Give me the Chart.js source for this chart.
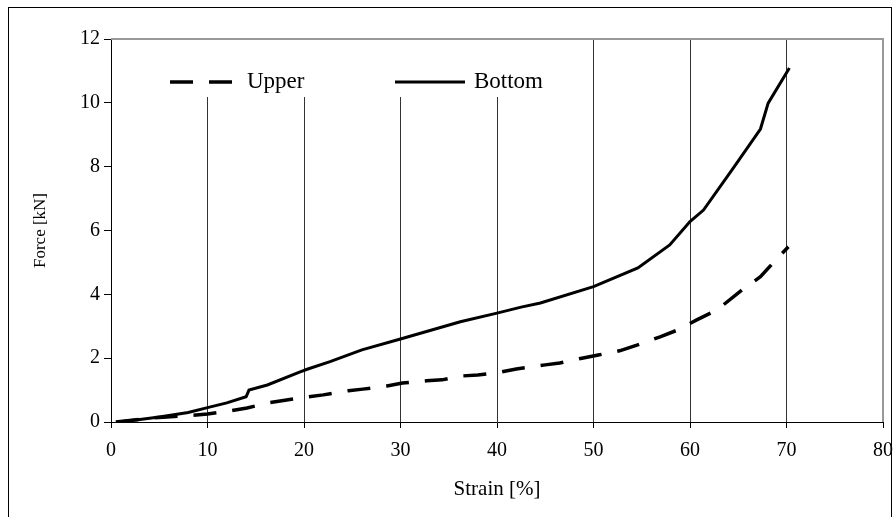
<!DOCTYPE html>
<html>
<head>
<meta charset="utf-8">
<script src="https://cdn.jsdelivr.net/npm/chart.js@4/dist/chart.umd.min.js"></script>
<style>
  html, body { margin: 0; padding: 0; background: #fff; }
  canvas { display: block; }
</style>
</head>
<body>
<canvas id="chart" width="896" height="517"></canvas>
<script>
// Strain [%] vs Force [kN]
const upperStrain = [0.5, 4, 5.8, 8, 10, 12, 14.1, 16.3, 18.2, 20.4, 22, 24.6, 26.1, 28.6, 30.2, 32.7, 34.3, 36.2, 38, 40, 42, 45, 46.5, 48.8, 50.5, 52.7, 54.5, 56.9, 58.7, 60.7, 62.8, 65.4, 67.3, 68.6, 70.2];
const upperForce = [0, 0.12, 0.16, 0.2, 0.25, 0.33, 0.44, 0.6, 0.69, 0.79, 0.85, 0.98, 1.03, 1.13, 1.22, 1.29, 1.32, 1.44, 1.47, 1.54, 1.66, 1.79, 1.85, 2.0, 2.1, 2.23, 2.41, 2.67, 2.88, 3.2, 3.51, 4.14, 4.55, 4.98, 5.49];

const bottomStrain = [0.7, 3, 5, 8, 10, 12, 14.0, 14.3, 16.2, 19.6, 20.4, 22.7, 26, 30, 36.2, 40, 42.5, 44.5, 50, 54.6, 57.9, 60, 61.4, 64.5, 67.3, 68.1, 70.3];
const bottomForce = [0, 0.08, 0.16, 0.3, 0.45, 0.6, 0.79, 1.0, 1.16, 1.57, 1.66, 1.89, 2.26, 2.6, 3.14, 3.41, 3.6, 3.73, 4.24, 4.83, 5.55, 6.28, 6.64, 7.96, 9.18, 9.99, 11.09];

const seriesNames = ['Upper', 'Bottom'];
const xTitle = 'Strain [%]';
const yTitle = 'Force [kN]';

const FONT = 'Liberation Serif, Times New Roman, serif';
const pts = (xs, ys) => xs.map((x, i) => ({ x, y: ys[i] }));

// outer frame, grey plot box and the in-plot legend (white box hides the grid)
const decor = {
  id: 'decor',
  beforeDraw(chart) {
    const c = chart.ctx;
    c.save();
    c.strokeStyle = '#000';
    c.lineWidth = 1;
    c.strokeRect(8.5, 7.5, 883, 530);
    c.restore();
  },
  beforeDatasetsDraw(chart) {
    const { ctx: c, chartArea: a } = chart;
    c.save();
    c.fillStyle = '#fff';
    c.fillRect(150, a.top, 410, 97 - a.top);
    c.strokeStyle = '#999';
    c.lineWidth = 2;
    c.beginPath();
    c.moveTo(a.left, a.top);
    c.lineTo(a.right, a.top);
    c.lineTo(a.right, a.bottom);
    c.stroke();
    c.restore();
  },
  afterDatasetsDraw(chart) {
    const c = chart.ctx;
    const items = [
      { x0: 170, x1: 233, tx: 247 },
      { x0: 395, x1: 465, tx: 474 },
    ];
    const y = 82;
    c.save();
    c.font = `23px ${FONT}`;
    c.fillStyle = '#000';
    c.textBaseline = 'middle';
    items.forEach((it, i) => {
      const ds = chart.data.datasets[i];
      c.strokeStyle = ds.borderColor;
      c.lineWidth = ds.borderWidth;
      c.setLineDash(ds.borderDash || []);
      c.beginPath();
      c.moveTo(it.x0, y);
      c.lineTo(it.x1, y);
      c.stroke();
      c.setLineDash([]);
      c.fillText(seriesNames[i], it.tx, y);
    });
    c.restore();
  },
};

new Chart(document.getElementById('chart'), {
  type: 'line',
  data: {
    datasets: [
      {
        label: seriesNames[0],
        data: pts(upperStrain, upperForce),
        borderColor: '#000',
        borderWidth: 3.5,
        borderDash: [23, 16],
        pointRadius: 0,
        tension: 0,
      },
      {
        label: seriesNames[1],
        data: pts(bottomStrain, bottomForce),
        borderColor: '#000',
        borderWidth: 3,
        pointRadius: 0,
        tension: 0,
      },
    ],
  },
  options: {
    responsive: false,
    animation: false,
    devicePixelRatio: 1,
    layout: { padding: { top: 39, right: 13, bottom: 0, left: 0 } },
    plugins: { legend: { display: false }, tooltip: { enabled: false } },
    scales: {
      x: {
        type: 'linear',
        min: 0,
        max: 80,
        afterFit: s => { s.height = 95; s.paddingLeft = 0; s.paddingRight = 0; },
        ticks: { stepSize: 10, color: '#000', padding: 11, font: { family: FONT, size: 20 } },
        grid: {
          color: c => (c.tick.value > 0 && c.tick.value < 80 ? '#333' : 'rgba(0,0,0,0)'),
          tickColor: '#000',
          tickLength: 6,
        },
        border: { color: '#000', width: 1 },
        title: { display: true, text: xTitle, color: '#000', font: { family: FONT, size: 21 }, padding: { top: 0, bottom: 15 } },
      },
      y: {
        min: 0,
        max: 12,
        afterFit: s => { s.width = 111; },
        ticks: { stepSize: 2, color: '#000', padding: 4, font: { family: FONT, size: 20 } },
        grid: { drawOnChartArea: false, tickColor: '#000', tickLength: 7 },
        border: { color: '#000', width: 1 },
        title: { display: true, text: yTitle, color: '#000', font: { family: FONT, size: 17 }, padding: { top: 30, bottom: 0 } },
      },
    },
  },
  plugins: [decor],
});
</script>
</body>
</html>
